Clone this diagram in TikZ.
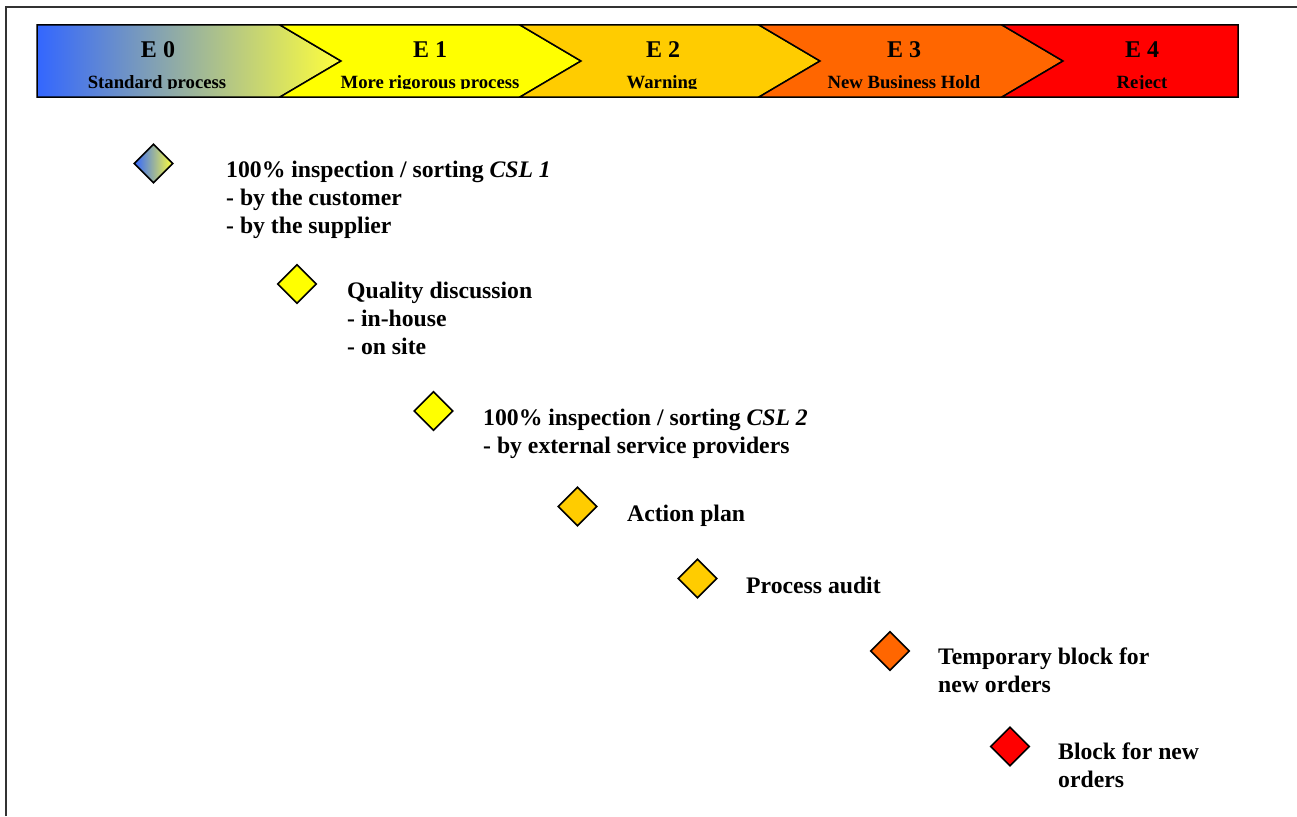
\documentclass[tikz,border=0pt]{standalone}
\usepackage{fontspec}
\setmainfont{Liberation Serif}
\usepackage{tikz}
\usetikzlibrary{shapes.geometric}
\definecolor{e0blue}{RGB}{51,102,255}
\definecolor{e0yellow}{RGB}{255,255,60}
\definecolor{e1yellow}{RGB}{255,255,0}
\definecolor{e2amber}{RGB}{255,204,0}
\definecolor{e3orange}{RGB}{255,102,0}
\definecolor{e4red}{RGB}{255,0,0}
\tikzset{diamond style/.style = {%
  draw = black,
  line width = 1.6pt,
  shape = diamond,
  aspect = 1,
  inner sep = 0pt,
  minimum size = 39pt
 },
 stage style/.style = {%
  draw = black,
  line width = 1.5pt,
  line join = miter
 },
 title style/.style = {%
  anchor = base,
  inner sep = 0pt,
  font = \fontsize{24}{28}\selectfont\bfseries
 },
 sub style/.style = {%
  anchor = base,
  inner sep = 0pt,
  font = \fontsize{18.7}{22}\selectfont\bfseries
 },
 note style/.style = {%
  anchor = north west,
  inner sep = 0pt,
  align = left,
  font = \fontsize{23.7}{28}\selectfont\bfseries
 }
}

\begin{document}
\begin{tikzpicture}[x=1pt,y=-1pt]
      \useasboundingbox (0,0) rectangle (1297,816);
      \draw[line width=2pt,black!80] (6,816) -- (6,7) -- (1297,7);

      \shadedraw[stage style,left color=e0blue,right color=e0yellow]
        (37,25) -- (280,25) -- (341,61) -- (280,97) -- (37,97) -- cycle;
      \filldraw[stage style,fill=e1yellow]
        (280,25) -- (520,25) -- (581,61) -- (520,97) -- (280,97) -- (341,61) -- cycle;
      \filldraw[stage style,fill=e2amber]
        (520,25) -- (759,25) -- (820,61) -- (759,97) -- (520,97) -- (581,61) -- cycle;
      \filldraw[stage style,fill=e3orange]
        (759,25) -- (1002,25) -- (1063,61) -- (1002,97) -- (759,97) -- (820,61) -- cycle;
      \filldraw[stage style,fill=e4red]
        (1002,25) -- (1238,25) -- (1238,97) -- (1002,97) -- (1063,61) -- cycle;

      \node[title style] (E0) at (158,57) {E 0};
      \node[title style] (E1) at (430,57) {E 1};
      \node[title style] (E2) at (663,57) {E 2};
      \node[title style] (E3) at (904,57) {E 3};
      \node[title style] (E4) at (1142,57) {E 4};
      \begin{scope}
        \clip (37,25) rectangle (1238,88.5);
        \node[sub style] (S0) at (157,88) {Standard process};
        \node[sub style] (S1) at (430,88) {More rigorous process};
        \node[sub style] (S2) at (662,88) {Warning};
        \node[sub style] (S3) at (904,88) {New Business Hold};
        \node[sub style] (S4) at (1142,88) {Reject};
      \end{scope}

      \node[diamond style,left color=e0blue,right color=e0yellow] (D1) at (153.5,163.5) {};
      \node[diamond style,fill=e1yellow] (D2) at (297,284) {};
      \node[diamond style,fill=e1yellow] (D3) at (433.5,411) {};
      \node[diamond style,fill=e2amber] (D4) at (577.5,506.5) {};
      \node[diamond style,fill=e2amber] (D5) at (697.5,578.5) {};
      \node[diamond style,fill=e3orange] (D6) at (890,651) {};
      \node[diamond style,fill=e4red] (D7) at (1010,746.5) {};

      \node[note style] (N1) at (226,160.7) {100\% inspection / sorting \textit{CSL 1}\\- by the customer\\- by the supplier};
      \node[note style] (N2) at (347,281.7) {Quality discussion\\- in-house\\- on site};
      \node[note style] (N3) at (483,408.7) {100\% inspection / sorting \textit{CSL 2}\\- by external service providers};
      \node[note style] (N4) at (627,504.7) {Action plan};
      \node[note style] (N5) at (746,576.7) {Process audit};
      \node[note style] (N6) at (938,647.7) {Temporary block for\\new orders};
      \node[note style] (N7) at (1058,742.7) {Block for new\\orders};
\end{tikzpicture}
\end{document}
